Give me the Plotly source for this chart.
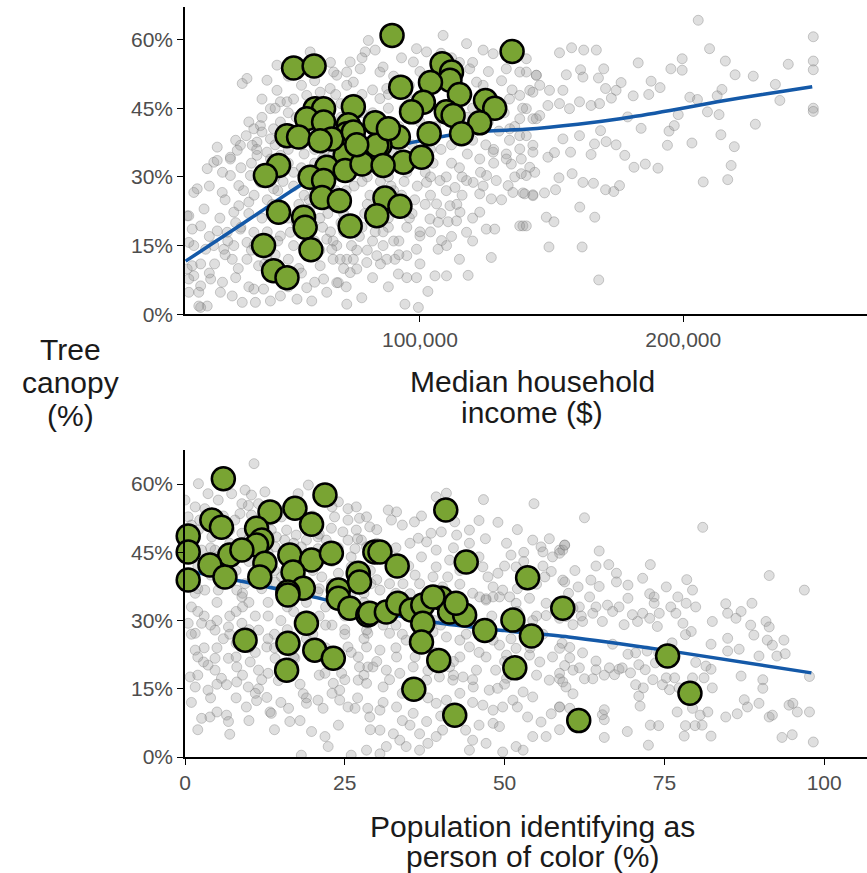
import plotly.graph_objects as go

# ---------------- TOP PANEL: median household income (thousands $) vs canopy (%) ----------------
top_gray_income_k = [
    205.7, 249.4, 249.4, 249.4, 249.4, 249.4, 210, 216, 219.7, 226.6,
    235, 239.9, 236.7, 227.4, 213.6, 214.3, 219.4, 218.2, 216.9, 207.6,
    203.3, 194, 194.6, 196.6, 198.1, 209.2, 202.5, 205.4, 212.9, 214.7,
    199.6, 199.6, 195.3, 191.2, 187.8, 186.9, 182.9, 181, 184, 178.9,
    177.8, 181.3, 185.6, 190.4, 175.8, 173.6, 170.5, 176.4, 174.5, 172.7,
    170.5, 169.8, 167.8, 167, 162.2, 157.6, 153, 161, 161.9, 155.6,
    168.2, 165, 160.6, 156.8, 153, 148.6, 168.6, 160.6, 154.3, 166.3,
    170.7, 174.5, 165, 157.2, 151.1, 148.6, 157.8, 152.8, 161.9, 165.9,
    151.5, 147.3, 142.9, 139.1, 160.7, 166.4, 148, 150.9, 139.1, 149,
    161.6, 167.9, 143.6, 140.4, 142.9, 137.9, 142.9, 145.5, 141.7, 145.5,
    149.2, 154.3, 140.4, 144.2,
    132.8, 138.5, 142.9, 137.9, 140.4, 127.1, 118.3, 110.1, 105.7, 94.3,
    99.4, 77.9, 72.2, 98.7, 95, 91.8, 127.1, 122.7, 125.2, 128.4,
    117.7, 108.2, 110.1, 106.9, 103.8, 106.9, 110.7, 113.9, 100, 98.7,
    95, 90.5, 87.4, 83.6, 79.8, 76, 72.2, 106.3, 111.4, 115.2,
    122.7, 120.2, 125.3, 129, 133.5, 135.3, 139.8, 134.7, 141.7, 138.5,
    102.5, 107.6, 113.3, 117.7,
    15.4, 24.9, 11.6, 16.7, 23, 26.8, 21.7, 28, 31.2, 35,
    29.3, 14.1, 18.6, 21.7, 16.7, 11.6, 14.1, 20.5, 16.7, 12.2,
    24.2, 28.7, 32.5, 19.2, 16.7, 40.6, 36.9, 37.5, 43.2, 47,
    53.3, 57, 58.9, 64.6, 69, 73.5, 74.7, 28.7, 34.3, 38.7,
    41.9, 34.3, 29.3, 25.5, 31.8, 36.9, 47, 50.8, 68.4, 69.7,
    66.5, 62.1, 64.6, 63.4, 68.4, 44.4, 39.4, 35.6, 28, 31.2,
    19.2, 14.1, 38.1, 43.2, 47,
    58.3, 45.7, 34.3, 32.5, 41.9, 45.7, 47, 49.5, 43.2, 39.4,
    36.9, 40, 38.1, 36.3, 31.8, 30.6, 28, 23, 23, 44.4,
    43.2, 41.9, 57, 62.1, 65.9, 68.4, 74.7, 72.2, 67.2,
    108.8, 80.4, 83, 79.2, 98.7, 102.5, 97.5, 117.7, 124, 127.8,
    132.8, 137.9, 140.4, 144.2, 73.5, 77.3, 84.8, 72.2, 87.4, 84.8,
    137.9, 142.9, 140.4, 144.2, 137.9, 134.1, 140.4, 137.9, 142.9, 132.8,
    127.8, 122.7, 118.9, 121.5,
    12.2, 13.5, 12.2, 13.5, 12.2, 16, 16,
    62, 65, 68, 70, 72, 75, 77, 79, 81, 83,
    85, 88, 90, 92, 94, 96, 98, 100, 102, 76,
    86, 66, 58, 54, 50, 48, 52, 56, 60, 67,
    80, 88, 95, 105, 110, 118, 125, 130, 108, 115,
    90, 95, 105, 115, 120, 100, 88, 78, 70, 65,
    55, 50, 60, 82, 92,
    # dense core, read row by row
    50, 55, 60, 66, 78, 86, 93, 100, 108, 112, 120, 126, 131, 135,
    40, 45, 52, 58, 68, 75, 82, 88, 96, 102, 118, 124, 130, 134, 139,
    35, 40, 47, 53, 70, 78, 86, 94, 106, 118, 126, 132, 136,
    30, 34, 38, 45, 50, 55, 64, 69, 76, 82, 90, 97, 104, 112, 120, 128, 134,
    25, 32, 36, 40, 45, 50, 55, 58, 63, 70, 74, 82, 87, 92, 98, 104, 112, 116, 123, 128, 136,
    20, 26, 33, 37, 42, 46, 52, 56, 60, 64, 68, 72, 78, 84, 89, 93, 99, 104, 110, 116, 124, 131,
    18, 24, 30, 35, 40, 44, 48, 53, 58, 62, 66, 71, 75, 80, 85, 88, 92, 97, 102, 108, 114, 120,
    20, 27, 32, 37, 42, 46, 52, 56, 60, 63, 67, 71, 74, 78, 82, 86, 90, 95, 104, 112, 120,
    22, 26, 31, 36, 41, 45, 50, 54, 58, 62, 67, 71, 80, 85, 92, 100, 115,
    20, 25, 30, 35, 44, 50, 55, 60, 72, 82, 88, 103,
]
top_gray_canopy = [
    64.2, 60.6, 55.3, 53.4, 45.0, 44.3, 58.0, 55.3, 52.3, 52.0,
    50.2, 54.6, 46.7, 41.5, 43.6, 39.2, 36.6, 32.5, 29.4, 28.9,
    37.4, 36.9, 40.0, 41.2, 43.6, 44.2, 47.4, 46.9, 47.7, 49.1,
    55.8, 53.3, 53.6, 49.5, 50.9, 48.0, 54.9, 47.7, 40.6, 43.1,
    34.7, 32.1, 32.8, 31.9, 28.1, 26.8, 27.2, 50.6, 48.9, 47.2,
    49.3, 53.6, 51.6, 57.7, 57.7, 58.2, 57.1, 53.4, 51.8, 52.3,
    46.0, 45.6, 46.4, 44.9, 46.0, 45.6, 40.1, 39.0, 38.3, 37.2,
    37.7, 37.0, 34.9, 35.4, 35.3, 34.3, 30.7, 29.8, 28.8, 28.6,
    27.2, 26.5, 26.1, 26.5, 23.4, 21.2, 21.2, 20.2, 19.3, 14.7,
    14.7, 7.5, 31.0, 30.3, 36.9, 39.0, 42.7, 43.4, 48.9, 50.0,
    48.9, 48.9, 52.9, 52.2,
    35.0, 33.9, 25.9, 19.3, 19.3, 12.4, 8.5, 8.4, 8.4, 2.2,
    1.5, 3.6, 2.2, 8.0, 8.0, 8.8, 25.2, 26.3, 18.6, 18.6,
    17.9, 16.1, 15.0, 14.2, 20.8, 20.1, 20.2, 20.4, 17.1, 14.2,
    12.8, 12.0, 12.0, 12.8, 11.3, 9.9, 12.0, 24.1, 23.7, 22.3,
    22.3, 28.8, 30.3, 29.2, 28.1, 26.6, 26.3, 32.8, 32.1, 30.7,
    28.8, 29.2, 27.7, 29.2,
    27.4, 26.6, 21.5, 19.3, 18.2, 17.9, 33.2, 33.9, 23.7, 24.5,
    22.3, 15.0, 14.2, 15.0, 11.0, 9.9, 8.4, 7.7, 6.2, 4.8,
    4.8, 4.0, 2.6, 1.8, 1.5, 5.5, 5.5, 2.6, 2.9, 4.0,
    3.3, 5.8, 2.9, 4.8, 6.9, 9.1, 12.0, 12.0, 12.0, 10.6,
    12.8, 15.7, 15.0, 14.2, 18.6, 17.9, 17.1, 17.9, 15.0, 12.0,
    14.2, 10.6, 16.4, 7.7, 6.9, 27.4, 28.8, 30.3, 30.3, 28.1,
    31.8, 26.6, 34.7, 33.9, 34.7,
    57.3, 54.4, 51.5, 50.4, 51.1, 48.9, 46.4, 46.4, 44.9, 41.2,
    40.5, 39.8, 37.6, 36.9, 36.9, 35.8, 34.3, 36.5, 33.6, 40.5,
    38.3, 35.4, 47.8, 48.5, 49.3, 52.2, 50.7, 52.9, 52.9,
    60.9, 59.8, 57.7, 57.3, 58.0, 57.3, 55.1, 59.1, 57.7, 56.9,
    53.6, 52.9, 55.8, 52.2, 55.1, 53.6, 52.9, 50.0, 49.3, 47.1,
    47.8, 48.5, 44.9, 42.7, 42.7, 40.5, 39.0, 36.1, 35.4, 33.9,
    35.4, 33.9, 53.6, 50.7,
    21.5, 18.6, 15.7, 10.6, 7.7, 4.8, 1.8,
    28, 22, 27, 20, 24, 28, 17, 22, 26, 18,
    29, 19, 27, 16, 29, 21, 25, 18, 31, 14,
    15, 18, 25, 24, 21, 29, 31, 35, 33, 35,
    30, 30, 31, 33, 30, 35, 37, 40, 36, 32,
    52, 48, 52, 55, 45, 42, 45, 48, 46, 40,
    40, 44, 36, 44, 41,
    52, 50, 51, 55, 56, 54, 56, 53, 57, 56, 55, 53, 51, 49,
    47, 45, 47, 46, 48, 47, 49, 48, 50, 48, 48, 50, 46, 47, 45,
    42, 43, 42, 43, 43, 44, 42, 45, 41, 43, 42, 44, 41,
    38, 39, 36, 37, 36, 37, 36, 38, 39, 38, 35, 37, 36, 37, 38, 36, 38,
    31, 32, 33, 31, 30, 33, 32, 30, 34, 31, 33, 32, 34, 32, 34, 30, 33, 30, 31, 33, 30,
    28, 25, 27, 26, 25, 27, 28, 26, 27, 29, 25, 27, 29, 26, 28, 26, 28, 26, 27, 26, 28, 25,
    23, 21, 20, 22, 21, 24, 22, 20, 23, 21, 24, 22, 20, 24, 22, 21, 23, 22, 24, 22, 24, 21,
    17, 16, 19, 15, 18, 16, 15, 18, 16, 19, 16, 18, 15, 19, 16, 18, 16, 19, 18, 17, 16,
    11, 13, 10, 14, 11, 13, 12, 10, 13, 14, 12, 10, 14, 11, 13, 11, 12,
    9, 7, 8, 6, 8, 6, 9, 7, 6, 8, 6, 5,
]

top_green_income_k = [
    89.4, 135.0, 52.0, 59.8, 108.4, 112.0, 111.4, 92.7, 104.0, 115.0,
    124.9, 128.4, 101.3, 96.8, 110.0, 112.6, 122.7, 103.5, 115.8, 74.7,
    83.0, 72.8, 72.2, 91.8, 84.8, 71.6, 79.8, 93.7, 100.6, 60.2,
    63.4, 57.0, 63.4, 49.5, 53.9, 66.5, 62.1, 74.7, 46.3, 64.6,
    41.3, 58.3, 63.4, 62.8, 69.4, 73.5, 71.6, 46.3, 40.6, 44.4,
    49.5, 55.8, 56.4, 58.6, 86.7, 92.4, 83.6, 83.6, 78.0, 86.0,
    88.0, 76.0,
]
top_green_canopy = [
    60.9, 57.4, 53.8, 54.2, 54.7, 52.9, 51.1, 49.6, 50.6, 48.0,
    46.7, 45.0, 46.3, 44.2, 44.2, 43.4, 41.8, 39.4, 39.4, 45.3,
    41.8, 41.4, 39.4, 38.7, 36.9, 34.7, 34.7, 33.2, 34.3, 44.9,
    44.9, 42.7, 42.0, 39.0, 38.7, 38.3, 37.9, 39.8, 32.5, 32.1,
    30.3, 29.9, 29.2, 25.5, 24.8, 19.3, 31.4, 22.3, 15.0, 9.5,
    8.0, 21.2, 19.0, 14.1, 25.4, 23.6, 21.5, 36.9, 32.8, 32.5,
    40.5, 37.0,
]

top_fit_income_k = [11, 20, 30, 40, 50, 60, 70, 85, 96, 110,
                    125, 140, 160, 176, 195, 213, 230, 249]
top_fit_canopy = [11.6, 15.0, 18.8, 22.6, 26.5, 30.0, 32.9, 36.0, 37.4, 39.0,
                  40.0, 40.4, 41.5, 42.7, 44.5, 46.4, 48.0, 49.7]

# ---------------- BOTTOM PANEL: population of color (%) vs canopy (%) ----------------
bot_gray_poc = [
    62.5, 81.0, 59.4, 58.6, 64.8, 64.3, 66.3, 72.8, 67.5, 67.5,
    63.5, 64.8, 71.6, 78.5, 91.4, 96.9, 69.3, 75.3, 77.1, 79.4,
    78.4, 79.9, 72.7, 73.4, 73.4, 63.3, 59.4, 61.7, 64.3, 66.1,
    67.9, 69.3, 74.2, 76.0, 76.8, 77.9, 79.2, 84.6, 87.0, 88.7,
    84.9, 86.2, 82.5, 88.5, 90.9, 91.4, 84.9, 89.0, 91.1, 91.9,
    93.7, 86.7, 84.9, 89.8, 92.6, 93.9, 82.3, 79.9, 81.5, 82.3,
    87.0, 90.4, 90.4, 97.7, 87.5, 88.0, 89.8, 91.4, 91.9, 94.5,
    95.8, 97.7, 95.1, 93.4, 95.0, 98.3, 84.6, 86.4, 82.3, 78.1,
    80.9, 79.8, 78.3, 72.8, 74.1, 72.5, 69.2, 65.6, 65.6, 65.3,
    65.6, 58.6, 58.6, 59.4, 59.1, 60.7, 62.5, 63.8, 65.6, 67.9,
    69.7, 70.5, 71.2, 71.0, 71.7, 73.2, 74.7, 75.3, 75.8, 76.6,
    77.3, 79.4, 81.2, 82.5, 77.0, 79.4, 80.6, 81.8, 60.2, 61.7,
    64.3, 66.4, 67.2, 68.4, 71.0, 72.0, 73.6, 74.1, 76.2, 78.3,
    70.5, 72.3, 69.3, 66.9, 64.3, 62.2, 60.2, 65.3, 66.9, 68.7,
    70.8, 72.7, 70.0, 71.6, 73.9, 63.8, 62.2, 59.6, 60.7,
    1.6, 3.6, 4.7, 5.7, 6.5, 3.6, 1.6, 0.8, 2.6, 3.9,
    5.0, 6.5, 6.8, 8.1, 9.9, 11.5, 9.6, 11.2, 12.8, 13.3,
    13.5, 16.2, 16.4, 19.8, 21.9, 22.4, 18.2, 26.0, 28.4, 18.5,
    19.0, 20.8, 21.6, 24.2, 25.5, 26.6, 28.6, 24.2, 23.2, 14.6,
    13.0, 11.5, 10.2, 8.1, 6.8, 4.7, 2.9, 1.6, 0.5, 2.6,
    4.7, 6.8, 8.9, 11.5, 12.8, 14.1, 17.2, 21.9, 24.5, 27.1,
    28.6, 27.1, 25.5, 28.6,
    10.8, 2.1, 3.6, 5.2, 7.3, 9.4, 10.4, 12.5, 11.5, 9.9,
    8.6, 8.9, 17.7, 19.3, 15.1, 15.9, 24.0, 25.5, 26.8, 27.3,
    28.4, 28.9, 25.5, 23.4, 22.9, 24.7, 26.8, 25.5, 27.6, 28.4,
    26.6, 0.0, 0.5, 1.6, 3.1, 2.3, 2.1, 4.2, 5.2, 7.0,
    7.8, 8.9, 10.4, 13.5, 14.3, 15.6, 17.4, 19.0, 20.8, 22.1,
    14.1, 15.6, 18.2, 20.8, 24.0, 26.0, 27.6, 29.1, 2.6, 4.7,
    5.2, 3.1, 1.6, 8.1, 9.4, 14.1, 15.1, 21.4, 22.9, 20.8,
    8.9,
    1, 3, 5, 7, 9, 11, 13, 15, 17, 19,
    21, 23, 25, 27, 29, 1, 4, 12, 18, 26,
    28, 10, 16, 20, 22, 24, 6, 3, 14, 8,
    47.1, 49.2, 51.8, 53.9, 56.5, 58.6, 60.7, 56.5, 54.4, 48.2,
    49.2, 50.3, 51.8, 53.9, 55.5, 57.5, 58.6, 60.7, 58.6, 57.0,
    59.6, 47.6, 48.9, 52.9, 54.4, 51.3, 49.7, 53.6, 55.7, 57.3,
    58.6, 60.2, 56.5, 54.4, 58.6, 47.1, 48.2, 49.2, 51.8, 52.9,
    49.7, 44.5, 45.0, 43.9, 42.9, 40.3, 39.3, 38.0, 36.7, 34.6,
    33.6, 31.5, 30.5, 30.5, 32.6, 35.2, 36.7, 28.9, 30.5, 33.1,
    35.7, 37.8, 39.3, 40.9, 43.0, 45.1, 46.6, 48.2, 45.6, 43.5,
    41.9, 39.8, 37.8, 35.7, 33.6, 31.5, 29.4, 27.3, 28.4, 31.0,
    33.1, 30.5, 28.4, 28.4, 32.0, 34.6, 38.8, 40.9, 43.0, 44.5,
    43.0, 41.4, 47.1, 48.6, 50.3, 52.3,
    39.3, 40.9, 46.7, 54.6, 48.96, 31.8, 33.1, 32.3, 35.9, 38.5,
    40.1, 42.5, 44.5, 44.5, 42.2, 50.3, 51.0, 51.8, 54.4, 55.7,
    56.0, 57.5, 59.1, 59.4, 58.6, 57.3, 56.3, 59.1, 61.5, 35.2,
    36.5, 37.8, 39.3, 39.3, 41.4, 46.6, 47.4, 48.96, 49.7, 48.2,
    50.8, 48.2, 46.1, 47.1, 41.1, 40.3, 38.8, 36.7, 35.2, 34.1,
    32.0, 30.5,
    31, 34, 36, 38, 40, 42, 44, 46, 33, 37,
    # dense left cloud, read row by row
    1, 6, 12, 16, 20, 23, 30, 34, 37, 46, 52,
    1, 4, 7, 10, 13, 17, 21, 24, 27, 30, 33, 42, 47, 53, 57,
    2, 5, 8, 10, 14, 17, 20, 23, 26, 29, 32, 35, 37, 43, 46, 50, 53, 56, 61,
    2, 6, 9, 12, 15, 18, 21, 24, 27, 30, 33, 36, 40, 43, 45, 52, 55, 60,
    2, 5, 8, 10, 13, 16, 19, 22, 25, 28, 31, 35, 39, 43, 48, 52, 55, 62,
    1, 4, 7, 10, 13, 16, 19, 22, 25, 28, 31, 34, 37, 40, 44, 48, 51, 56, 59,
    2, 5, 8, 11, 14, 17, 20, 23, 26, 30, 33, 36, 39, 42, 46, 50, 54,
    2, 5, 9, 12, 15, 18, 21, 25, 28, 32, 35, 38, 42, 45, 50, 55,
    1, 4, 8, 11, 15, 19, 23, 27, 31, 34, 38, 41, 45, 52,
    2, 7, 10, 14, 18, 24, 29, 34, 40, 46,
]
bot_gray_canopy = [
    52.6, 50.5, 46.6, 45.5, 45.3, 42.0, 42.3, 42.3, 40.4, 38.5,
    38.9, 37.5, 39.3, 39.0, 39.9, 36.7, 37.8, 37.4, 35.2, 36.7,
    33.8, 33.0, 35.9, 35.2, 33.8, 35.2, 38.5, 33.0, 33.0, 33.4,
    33.0, 34.9, 31.6, 33.0, 31.6, 29.4, 27.6, 33.7, 32.0, 33.8,
    31.6, 30.5, 29.8, 29.0, 29.8, 28.6, 26.1, 26.8, 25.7, 24.6,
    25.7, 23.7, 23.3, 22.2, 22.2, 22.7, 24.8, 20.8, 20.0, 19.3,
    17.8, 17.0, 15.1, 17.7, 12.6, 11.0, 11.8, 8.8, 9.2, 11.4,
    9.9, 9.9, 11.8, 4.3, 4.9, 3.3, 8.8, 9.5, 4.6, 4.6,
    7.0, 6.9, 6.9, 7.0, 6.9, 2.6, 5.6, 4.3, 8.2, 9.3,
    10.4, 11.0, 17.2, 20.1, 16.5, 13.9, 17.2, 17.2, 18.0, 19.3,
    18.5, 15.9, 11.2, 13.4, 15.2, 17.0, 15.9, 17.4, 14.8, 17.4,
    15.2, 17.4, 17.4, 15.2, 9.9, 10.7, 9.2, 9.9, 24.1, 19.6,
    19.2, 19.6, 18.1, 19.6, 20.3, 19.2, 20.7, 22.9, 25.1, 26.9,
    22.9, 23.3, 22.6, 24.8, 21.1, 22.9, 21.8, 29.8, 32.0, 29.1,
    29.8, 30.5, 31.3, 31.6, 28.7, 31.6, 29.8, 30.9, 32.7,
    23.5, 20.2, 19.1, 17.3, 15.9, 14.7, 15.4, 17.6, 8.5, 8.8,
    9.9, 9.2, 7.8, 16.5, 15.4, 15.0, 11.0, 12.4, 13.1, 9.9,
    9.6, 10.7, 7.8, 5.6, 4.5, 2.3, 0.4, 0.4, 1.5, 13.9,
    11.8, 12.5, 10.7, 12.5, 11.0, 10.7, 10.7, 14.7, 16.2, 16.8,
    18.4, 19.1, 20.9, 19.8, 21.7, 21.7, 20.9, 27.2, 29.4, 29.4,
    27.9, 28.6, 29.4, 27.9, 24.2, 21.7, 21.7, 18.4, 18.4, 16.9,
    19.8, 22.0, 24.2, 27.2,
    64.5, 60.1, 57.9, 56.5, 57.9, 58.7, 57.6, 58.3, 55.7, 55.3,
    53.5, 55.7, 57.9, 59.8, 52.8, 49.9, 56.1, 54.6, 55.0, 52.5,
    52.8, 50.6, 52.1, 52.8, 50.3, 49.5, 49.9, 47.7, 47.7, 46.2,
    45.8, 56.5, 52.8, 55.0, 54.6, 52.1, 49.9, 48.4, 49.5, 49.9,
    52.1, 49.2, 53.2, 49.9, 48.4, 47.7, 48.8, 47.7, 48.4, 47.7,
    46.2, 45.5, 46.2, 45.8, 40.4, 41.8, 39.6, 38.1, 45.5, 45.5,
    36.7, 36.7, 36.0, 36.7, 38.1, 38.5, 39.6, 39.6, 38.1, 36.3,
    35.2,
    33, 31, 34, 31, 33, 31, 34, 30, 32, 34,
    31, 29, 28, 33, 30, 38, 40, 37, 38, 36,
    36, 24, 26, 27, 24, 22, 26, 24, 27, 25,
    34.5, 35.2, 33.8, 34.9, 33.8, 30.5, 29.1, 31.1, 30.0, 25.7,
    24.6, 22.4, 23.9, 22.4, 20.9, 22.0, 23.9, 19.1, 18.4, 16.9,
    15.4, 14.7, 15.1, 14.3, 13.2, 12.5, 11.0, 8.8, 7.7, 9.5,
    11.0, 10.7, 4.5, 4.5, 6.0, 3.0, 7.4, 6.7, 2.3, 1.5,
    1.1, 1.5, 3.7, 5.9, 8.1, 5.9, 4.5, 3.0, 1.5, 2.3,
    3.7, 2.3, 0.7, 5.9, 5.1, 7.0, 5.1, 8.8, 10.3, 11.0,
    9.6, 7.8, 11.8, 12.5, 14.0, 15.4, 11.4, 10.3, 19.1, 17.6,
    16.9, 17.6, 16.9, 19.8, 18.4, 19.1, 19.8, 19.8, 16.2, 15.4,
    22.0, 23.5, 24.2, 27.9, 27.2, 25.7, 27.5, 26.4, 25.7, 24.2,
    22.0, 19.8, 22.0, 19.1, 17.3, 18.4,
    57.2, 58.0, 56.6, 55.7, 51.6, 54.3, 53.9, 52.1, 51.7, 49.2,
    49.5, 48.8, 49.9, 47.0, 51.7, 47.0, 44.4, 41.8, 47.7, 46.2,
    45.1, 44.0, 45.5, 46.6, 44.8, 40.8, 39.6, 38.9, 37.4, 47.0,
    48.1, 47.3, 45.5, 41.8, 43.3, 41.8, 39.6, 40.4, 36.7, 37.4,
    35.2, 35.2, 35.2, 34.8, 39.6, 37.4, 39.6, 38.1, 35.9, 38.1,
    38.1, 36.7,
    31, 33, 29, 31, 33, 30, 32, 29, 29, 34,
    51, 53, 52, 55, 53, 55, 50, 51, 53, 52, 50,
    47, 46, 47, 48, 45, 47, 49, 46, 48, 47, 46, 46, 48, 45, 48,
    42, 44, 41, 43, 41, 42, 41, 43, 44, 41, 43, 42, 44, 41, 44, 42, 43, 42, 41,
    37, 38, 36, 39, 36, 40, 37, 38, 37, 39, 36, 40, 36, 38, 36, 37, 38, 36,
    32, 30, 32, 34, 31, 33, 31, 33, 31, 34, 33, 31, 30, 33, 31, 32, 31, 31,
    27, 29, 27, 28, 26, 28, 26, 29, 27, 26, 29, 27, 28, 29, 27, 28, 26, 27, 25,
    22, 24, 22, 23, 24, 22, 24, 21, 23, 21, 24, 22, 23, 21, 23, 21, 24,
    18, 16, 18, 17, 19, 16, 18, 17, 18, 17, 16, 19, 18, 17, 16, 18,
    12, 13, 13, 14, 12, 13, 14, 13, 12, 14, 13, 10, 12, 11,
    6, 5, 8, 6, 8, 7, 6, 8, 9, 7,
]

bot_green_poc = [
    6.0, 21.9, 4.2, 5.7, 13.3, 17.2, 19.8, 0.5, 11.2, 12.0,
    11.2, 0.5, 7.0, 8.9, 3.9, 6.25, 0.5, 12.5, 11.7, 16.4,
    19.8, 22.9, 16.9, 18.5, 16.1, 24.0, 27.1, 27.3, 29.7, 9.4,
    19.0, 16.1, 20.3, 23.2, 15.9, 16.1, 24.0, 25.8, 28.6, 40.8,
    30.5, 33.2, 44.0, 53.6, 28.9, 31.5, 33.3, 35.4, 37.2, 40.1,
    41.4, 43.75, 37.2, 37.0, 46.9, 51.3, 54.2, 59.1, 39.7, 51.6,
    35.8, 42.2, 61.6, 75.5, 79.0, 38.8, 42.4,
]
bot_green_canopy = [
    61.2, 57.6, 52.1, 50.5, 53.9, 54.7, 51.2, 48.6, 50.3, 47.7,
    46.6, 45.1, 44.4, 45.5, 42.2, 39.6, 38.9, 42.6, 39.6, 44.4,
    43.3, 44.8, 40.7, 37.1, 36.3, 36.7, 40.4, 38.5, 45.1, 25.7,
    29.4, 25.0, 23.5, 21.7, 19.1, 35.6, 34.9, 32.7, 31.2, 54.3,
    45.1, 42.0, 42.9, 39.4, 31.6, 31.9, 33.8, 32.3, 33.4, 34.9,
    31.9, 31.2, 29.4, 25.3, 27.8, 30.1, 26.6, 32.7, 21.2, 19.6,
    14.9, 9.2, 8.0, 22.2, 14.0, 35.2, 33.8,
]

bot_fit_poc = [0, 10, 20, 30, 40, 50, 60, 75, 98]
bot_fit_canopy = [41.0, 38.3, 35.2, 32.0, 29.4, 27.8, 26.4, 23.5, 18.5]

y_ticks = [0, 15, 30, 45, 60]
y_labels = ["0%", "15%", "30%", "45%", "60%"]
top_x_ticks = [100000, 200000]
top_x_labels = ["100,000", "200,000"]
bot_x_ticks = [0, 25, 50, 75, 100]
bot_x_labels = ["0", "25", "50", "75", "100"]

# ---------------- styles ----------------
FONT = "Liberation Sans, Arial, Helvetica, sans-serif"
GREEN = "#79a433"
BLUE = "#1459a8"
gray_marker = dict(size=10, color="rgba(150,150,150,0.30)",
                   line=dict(color="rgba(110,110,110,0.34)", width=1))
green_marker = dict(size=23, color=GREEN, line=dict(color="black", width=2.5))

fig = go.Figure()
# top
fig.add_trace(go.Scatter(x=[v * 1000 for v in top_gray_income_k], y=top_gray_canopy,
                         mode="markers", marker=gray_marker, xaxis="x", yaxis="y", hoverinfo="skip"))
fig.add_trace(go.Scatter(x=[v * 1000 for v in top_fit_income_k], y=top_fit_canopy,
                         mode="lines", line=dict(color=BLUE, width=3.5, shape="spline", smoothing=0.8),
                         xaxis="x", yaxis="y"))
fig.add_trace(go.Scatter(x=[v * 1000 for v in top_green_income_k], y=top_green_canopy,
                         mode="markers", marker=green_marker, xaxis="x", yaxis="y", cliponaxis=False))
# bottom
fig.add_trace(go.Scatter(x=bot_gray_poc, y=bot_gray_canopy, mode="markers", marker=gray_marker,
                         xaxis="x2", yaxis="y2", hoverinfo="skip"))
fig.add_trace(go.Scatter(x=bot_fit_poc, y=bot_fit_canopy, mode="lines",
                         line=dict(color=BLUE, width=3.5, shape="spline", smoothing=0.8),
                         xaxis="x2", yaxis="y2"))
fig.add_trace(go.Scatter(x=bot_green_poc, y=bot_green_canopy, mode="markers", marker=green_marker,
                         xaxis="x2", yaxis="y2", cliponaxis=False))

axis_common = dict(showline=True, linecolor="black", linewidth=1.5, ticks="outside", ticklen=6,
                   tickwidth=1.3, tickcolor="black", showgrid=False, zeroline=False,
                   tickfont=dict(family=FONT, size=21, color="#4d4d4d"))

fig.update_layout(
    width=867, height=873,
    margin=dict(l=185, r=0, t=7, b=116),
    plot_bgcolor="white", paper_bgcolor="white",
    showlegend=False,
    font=dict(family=FONT),
    xaxis=dict(domain=[0, 1], anchor="y", range=[10760, 269800], tickmode="array",
               tickvals=top_x_ticks, ticktext=top_x_labels, **axis_common),
    yaxis=dict(domain=[0.5903, 1], anchor="x", range=[0, 67.1], tickmode="array",
               tickvals=y_ticks, ticktext=y_labels, **axis_common),
    xaxis2=dict(domain=[0, 1], anchor="y2", range=[0, 106.7], tickmode="array",
                tickvals=bot_x_ticks, ticktext=bot_x_labels, **axis_common),
    yaxis2=dict(domain=[0, 0.4093], anchor="x2", range=[0, 67.5], tickmode="array",
                tickvals=y_ticks, ticktext=y_labels, **axis_common),
)

title_font = dict(family=FONT, size=30, color="#1a1a1a")
title_lines = [
    ("Median household", 0.509, 0.5013),
    ("income ($)", 0.509, 0.4587),
    ("Population identifying as", 0.509, -0.092),
    ("person of color (%)", 0.509, -0.133),
    ("Tree", -0.1686, 0.5427),
    ("canopy", -0.1686, 0.4987),
    ("(%)", -0.1686, 0.456),
]
for txt, xp, yp in title_lines:
    fig.add_annotation(text=txt, xref="paper", yref="paper", x=xp, y=yp,
                       xanchor="center", yanchor="middle", showarrow=False, font=title_font)

fig.write_html("out.html")
